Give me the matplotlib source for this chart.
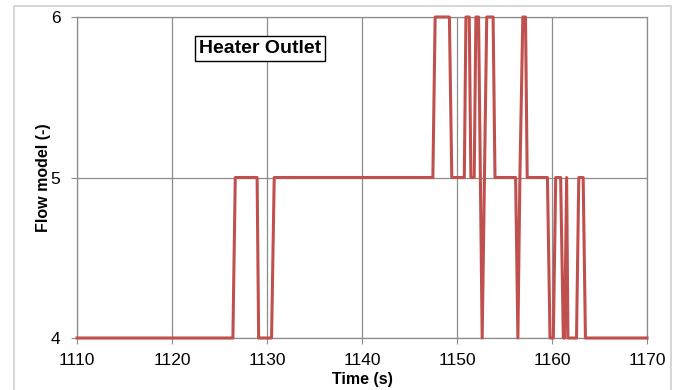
import matplotlib
matplotlib.use("Agg")
import matplotlib.pyplot as plt
from matplotlib.patches import Rectangle

# time (s) and flow model value
time_s = [1110.0, 1126.41, 1126.66, 1128.96, 1129.12, 1130.48, 1130.76,
          1147.46, 1147.70, 1149.20, 1149.45, 1150.77, 1150.94, 1151.29,
          1151.46, 1151.81, 1151.99, 1152.27, 1152.65, 1153.13, 1153.80,
          1154.00, 1156.17, 1156.41, 1156.62, 1156.93, 1157.21, 1157.39,
          1159.52, 1159.79, 1160.14, 1160.39, 1160.91, 1161.19, 1161.33,
          1161.54, 1161.68, 1162.58, 1162.82, 1163.28, 1163.52, 1170.0]
flow_model = [4, 4, 5, 5, 4, 4, 5,
              5, 6, 6, 5, 5, 6, 6,
              5, 5, 6, 6, 4, 6, 6,
              5, 5, 4, 5, 6, 6, 5,
              5, 4, 4, 5, 5, 4, 4,
              5, 4, 4, 5, 5, 4, 4]

x_ticks = [1110, 1120, 1130, 1140, 1150, 1160, 1170]
y_ticks = [4, 5, 6]

plt.rcParams['font.family'] = ['Liberation Sans', 'DejaVu Sans']

W, H = 681, 390
fig = plt.figure(figsize=(W / 100, H / 100), dpi=100)
ax = fig.add_axes([77 / W, 1 - 338 / H, (647 - 77) / W, (338 - 17) / H])

grid_col = "#8c8c8c"
ax.plot(time_s, flow_model, color="#C0504D", linewidth=2.2, clip_on=False, zorder=3)

ax.set_xlim(1110, 1170)
ax.set_ylim(4, 6)
ax.set_xticks(x_ticks)
ax.set_yticks(y_ticks)
ax.grid(True, color=grid_col, linewidth=0.9)
for s in ax.spines.values():
    s.set_color(grid_col)
    s.set_linewidth(0.9)
ax.tick_params(axis="both", direction="out", length=4, color=grid_col,
               labelsize=12.5, labelcolor="black")
ax.tick_params(axis="x", pad=7)
ax.tick_params(axis="y", pad=8)

ax.set_xlabel("Time (s)", fontsize=11.5, fontweight="bold", labelpad=3)
ax.set_ylabel("Flow model (-)", fontsize=11.5, fontweight="bold", labelpad=0)

ax.text(0.3205, 0.9025, "Heater Outlet", transform=ax.transAxes,
        fontsize=14, fontweight="bold", ha="center", va="center",
        bbox=dict(boxstyle="square,pad=0.2", facecolor="white",
                  edgecolor="black", linewidth=1.0), zorder=5)

# light frame around the chart area
fig.add_artist(Rectangle((14 / W, -0.1), (671 - 14) / W, 1.1 - 6 / H,
                         transform=fig.transFigure, fill=False,
                         edgecolor="#cfcfcf", linewidth=1.2))

fig.savefig("out.png", dpi=100)
